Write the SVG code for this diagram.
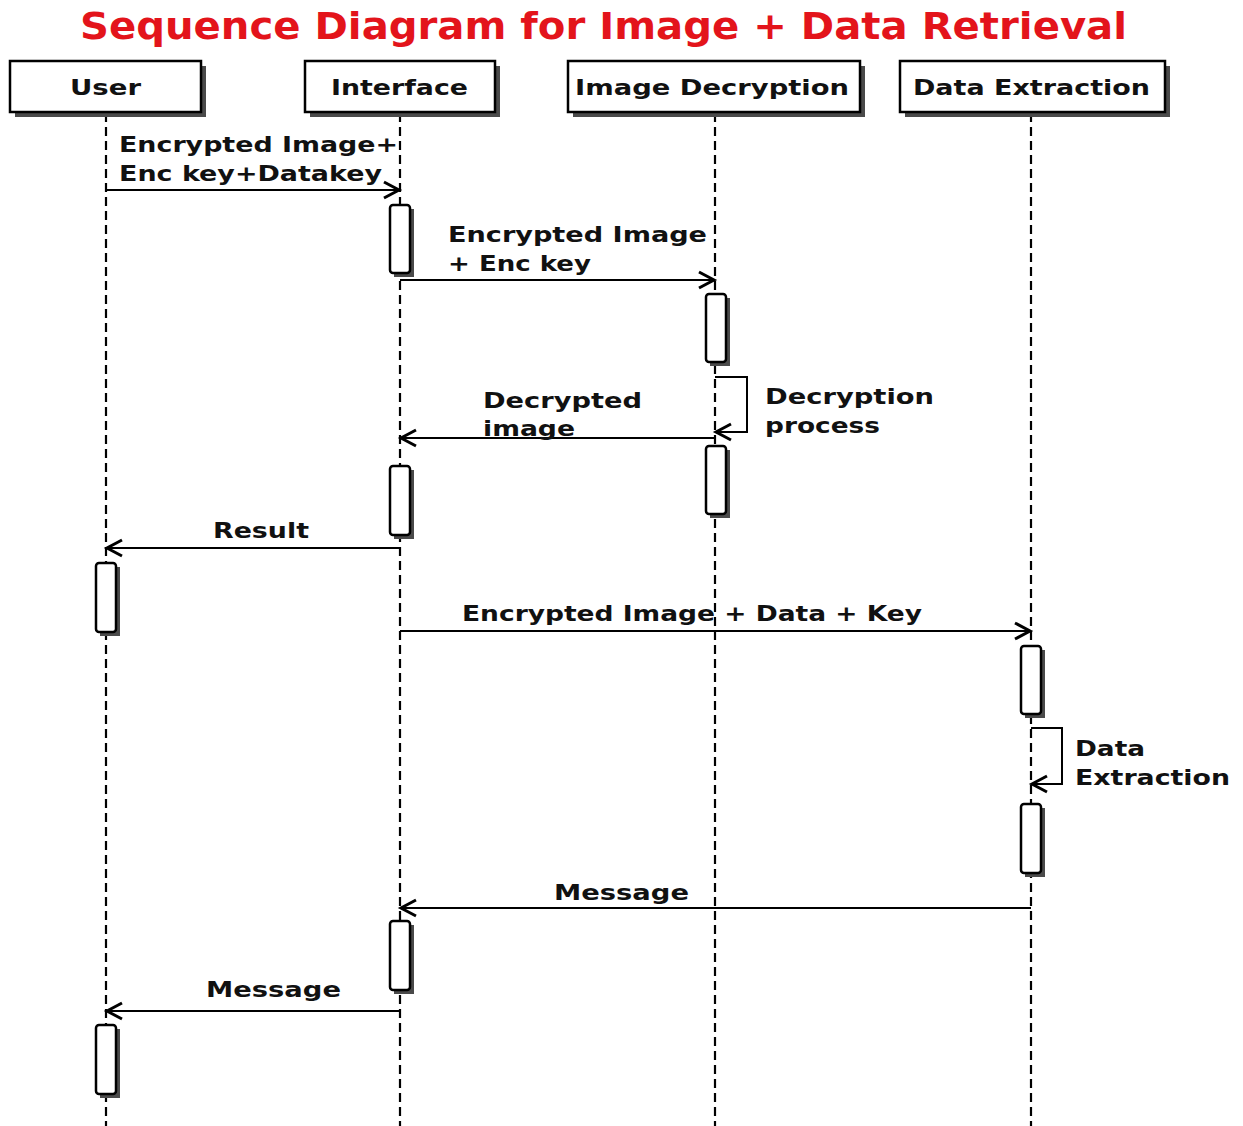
<svg xmlns="http://www.w3.org/2000/svg" width="1243" height="1126" viewBox="0 0 1243 1126">
<style>
.title{font-family:"DejaVu Sans",Verdana,sans-serif;font-weight:bold;font-size:38px;fill:#e3141b}
.hdr{font-family:"DejaVu Sans",Verdana,sans-serif;font-weight:bold;font-size:21px;fill:#111}
.lbl{font-family:"DejaVu Sans",Verdana,sans-serif;font-weight:bold;font-size:22px;fill:#111}
.box{fill:#fff;stroke:#000;stroke-width:2.5}
.shadow{fill:#4a4a4a}
.life{stroke:#000;stroke-width:2.2;stroke-dasharray:9,5;fill:none}
.msg{stroke:#000;stroke-width:2;fill:none}
.act{fill:#fff;stroke:#000;stroke-width:2.5}
</style>
<defs>
<marker id="arr" markerWidth="20" markerHeight="20" refX="16" refY="10" orient="auto" markerUnits="userSpaceOnUse">
<path d="M1,2 L16,10 L1,18" fill="none" stroke="#000" stroke-width="3"/>
</marker>
</defs>
<rect width="1243" height="1126" fill="#fff"/>
<text class="title" x="80" y="39" textLength="1047" lengthAdjust="spacingAndGlyphs">Sequence Diagram for Image + Data Retrieval</text>

<g id="lifelines">
<line class="life" x1="106" y1="113" x2="106" y2="1126"/>
<line class="life" x1="400" y1="113" x2="400" y2="1126"/>
<line class="life" x1="715" y1="113" x2="715" y2="1126"/>
<line class="life" x1="1031" y1="113" x2="1031" y2="1126"/>
</g>

<g id="user">
<rect class="shadow" x="15" y="66" width="191" height="51"/>
<rect class="box" x="10" y="61" width="191" height="51"/>
<text class="hdr" x="70" y="95" textLength="71" lengthAdjust="spacingAndGlyphs">User</text>
</g>
<g id="interface">
<rect class="shadow" x="310" y="66" width="190" height="51"/>
<rect class="box" x="305" y="61" width="190" height="51"/>
<text class="hdr" x="331" y="95" textLength="137" lengthAdjust="spacingAndGlyphs">Interface</text>
</g>
<g id="image-decryption">
<rect class="shadow" x="573" y="66" width="292" height="51"/>
<rect class="box" x="568" y="61" width="292" height="51"/>
<text class="hdr" x="575" y="95" textLength="274" lengthAdjust="spacingAndGlyphs">Image Decryption</text>
</g>
<g id="data-extraction">
<rect class="shadow" x="905" y="66" width="265" height="51"/>
<rect class="box" x="900" y="61" width="265" height="51"/>
<text class="hdr" x="913" y="95" textLength="237" lengthAdjust="spacingAndGlyphs">Data Extraction</text>
</g>

<g id="activations">
<rect class="shadow" x="394" y="209" width="20" height="68"/>
<rect class="act" x="390" y="205" width="20" height="68" rx="3"/>
<rect class="shadow" x="710" y="298" width="20" height="68"/>
<rect class="act" x="706" y="294" width="20" height="68" rx="3"/>
<rect class="shadow" x="710" y="450" width="20" height="68"/>
<rect class="act" x="706" y="446" width="20" height="68" rx="3"/>
<rect class="shadow" x="394" y="470" width="20" height="69"/>
<rect class="act" x="390" y="466" width="20" height="69" rx="3"/>
<rect class="shadow" x="100" y="567" width="20" height="69"/>
<rect class="act" x="96" y="563" width="20" height="69" rx="3"/>
<rect class="shadow" x="1025" y="650" width="20" height="68"/>
<rect class="act" x="1021" y="646" width="20" height="68" rx="3"/>
<rect class="shadow" x="1025" y="808" width="20" height="69"/>
<rect class="act" x="1021" y="804" width="20" height="69" rx="3"/>
<rect class="shadow" x="394" y="925" width="20" height="69"/>
<rect class="act" x="390" y="921" width="20" height="69" rx="3"/>
<rect class="shadow" x="100" y="1029" width="20" height="69"/>
<rect class="act" x="96" y="1025" width="20" height="69" rx="3"/>
</g>

<g id="connectors">
<line class="msg" x1="106" y1="190" x2="399" y2="190" marker-end="url(#arr)"/>
<line class="msg" x1="400" y1="280" x2="714" y2="280" marker-end="url(#arr)"/>
<polyline class="msg" points="715,377 747,377 747,432 716,432" marker-end="url(#arr)"/>
<line class="msg" x1="715" y1="438" x2="401" y2="438" marker-end="url(#arr)"/>
<line class="msg" x1="400" y1="548" x2="107" y2="548" marker-end="url(#arr)"/>
<line class="msg" x1="400" y1="631" x2="1030" y2="631" marker-end="url(#arr)"/>
<polyline class="msg" points="1031,728 1062,728 1062,784 1032,784" marker-end="url(#arr)"/>
<line class="msg" x1="1031" y1="908" x2="401" y2="908" marker-end="url(#arr)"/>
<line class="msg" x1="400" y1="1011" x2="107" y2="1011" marker-end="url(#arr)"/>
</g>

<g id="labels">
<text class="lbl" x="119" y="152" textLength="279" lengthAdjust="spacingAndGlyphs">Encrypted Image+</text>
<text class="lbl" x="119" y="181" textLength="263" lengthAdjust="spacingAndGlyphs">Enc key+Datakey</text>
<text class="lbl" x="448" y="242" textLength="259" lengthAdjust="spacingAndGlyphs">Encrypted Image</text>
<text class="lbl" x="448" y="271" textLength="143" lengthAdjust="spacingAndGlyphs">+ Enc key</text>
<text class="lbl" x="765" y="404" textLength="169" lengthAdjust="spacingAndGlyphs">Decryption</text>
<text class="lbl" x="765" y="433" textLength="115" lengthAdjust="spacingAndGlyphs">process</text>
<text class="lbl" x="483" y="408" textLength="159" lengthAdjust="spacingAndGlyphs">Decrypted</text>
<text class="lbl" x="483" y="436" textLength="92" lengthAdjust="spacingAndGlyphs">image</text>
<text class="lbl" x="213" y="538" textLength="96" lengthAdjust="spacingAndGlyphs">Result</text>
<text class="lbl" x="462" y="621" textLength="460" lengthAdjust="spacingAndGlyphs">Encrypted Image + Data + Key</text>
<text class="lbl" x="1075" y="756" textLength="70" lengthAdjust="spacingAndGlyphs">Data</text>
<text class="lbl" x="1075" y="785" textLength="155" lengthAdjust="spacingAndGlyphs">Extraction</text>
<text class="lbl" x="554" y="900" textLength="135" lengthAdjust="spacingAndGlyphs">Message</text>
<text class="lbl" x="206" y="997" textLength="135" lengthAdjust="spacingAndGlyphs">Message</text>
</g>
</svg>
